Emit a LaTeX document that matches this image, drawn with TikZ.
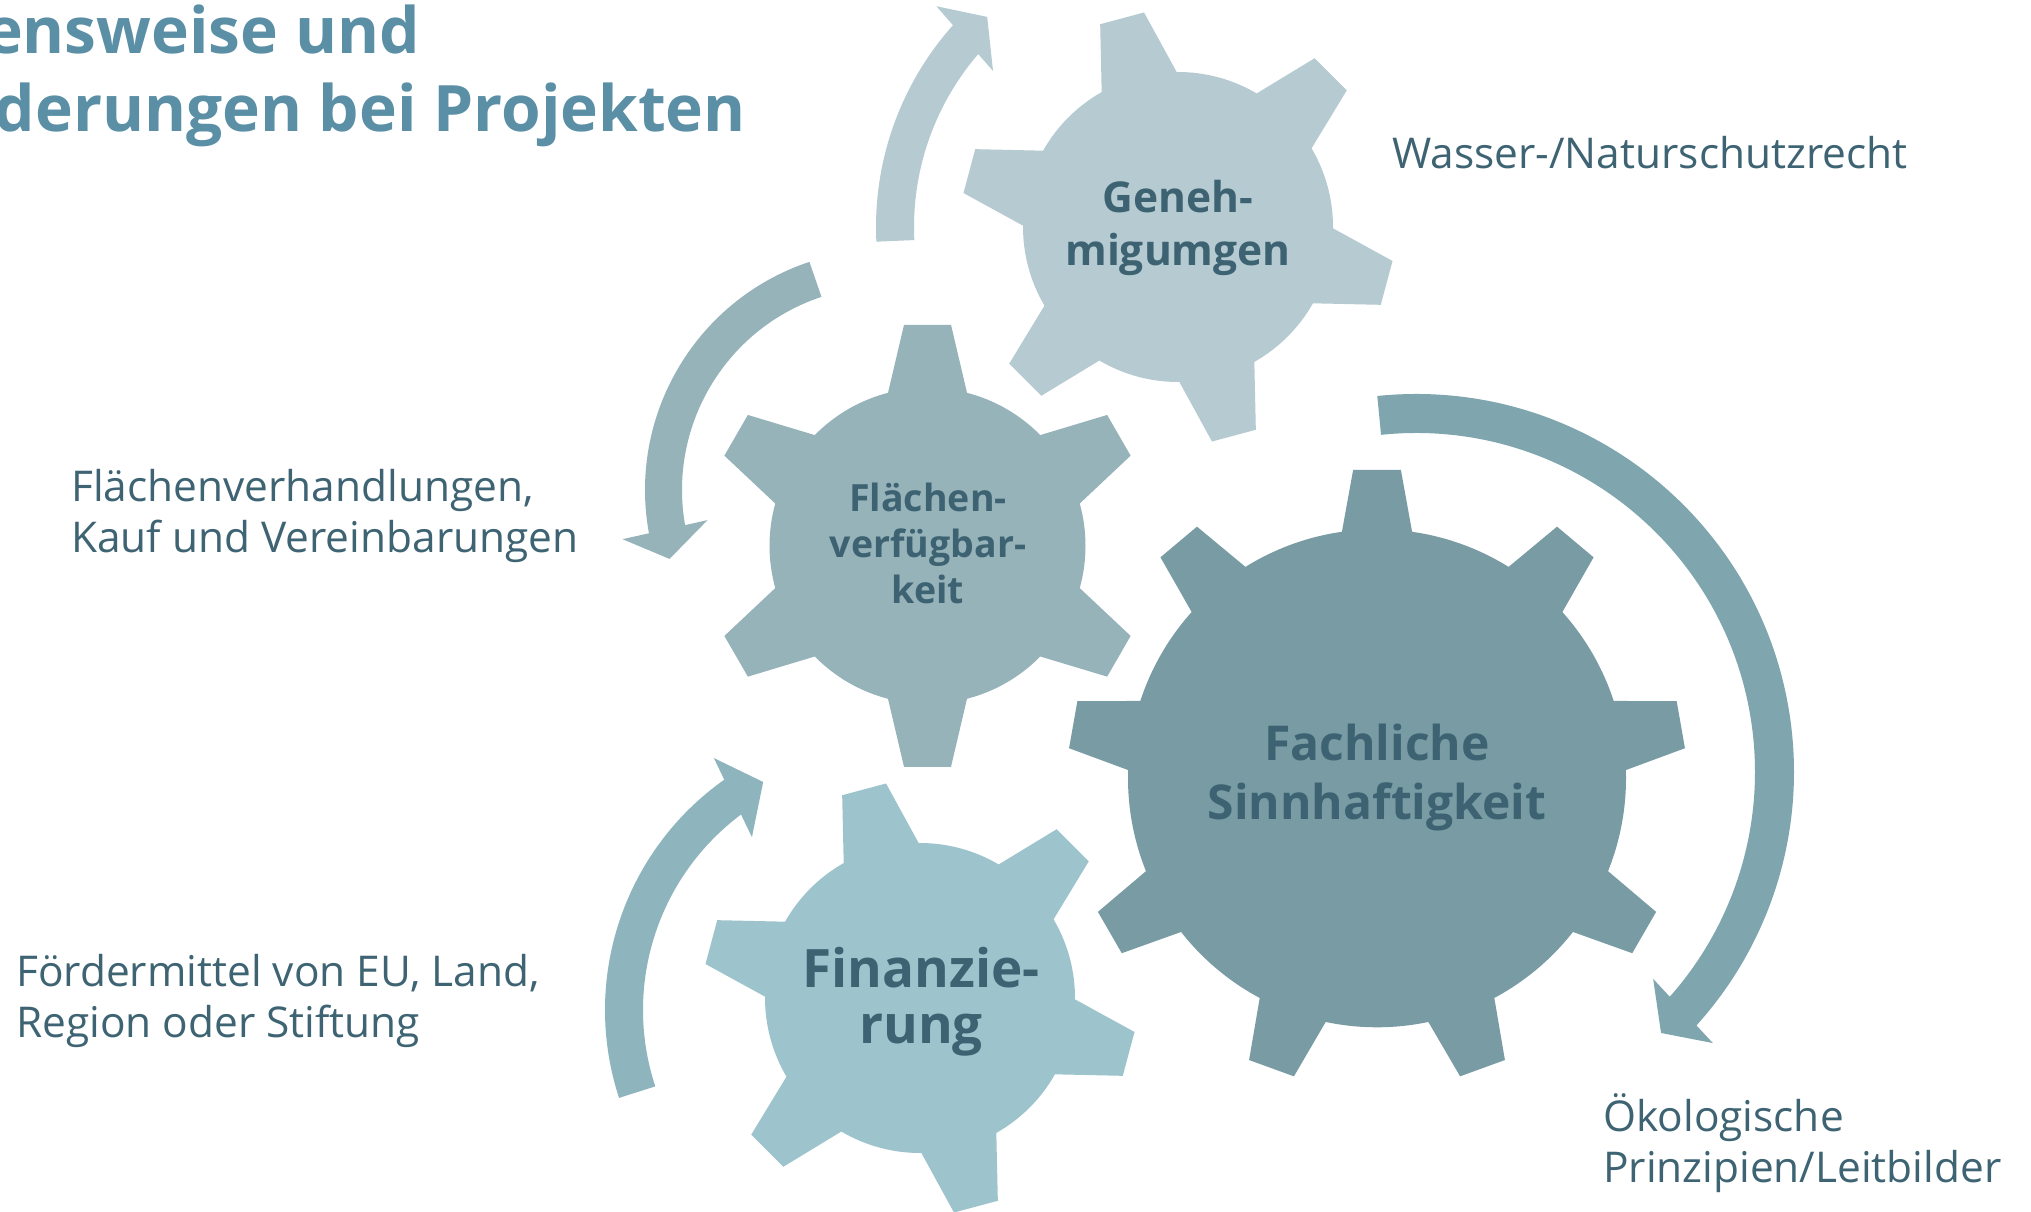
\documentclass[tikz,border=0pt]{standalone}
\usepackage{fontspec}
\setmainfont{Open Sans}
\usetikzlibrary{calc}
\definecolor{gearA}{HTML}{B5CAD1}
\definecolor{gearB}{HTML}{97B3BA}
\definecolor{gearC}{HTML}{789BA4}
\definecolor{gearD}{HTML}{9DC4CD}
\definecolor{arrC}{HTML}{8EB4BE}
\definecolor{arrD}{HTML}{7FA5AE}
\definecolor{geartext}{HTML}{3D6272}
\definecolor{labeltext}{HTML}{3E6474}
\definecolor{titletext}{HTML}{5A8FA6}
\newcommand{\gearshape}[8]{%
  \pgfmathsetmacro{\gB}{asin(#7/#4)}%
  \pgfmathsetmacro{\gT}{atan(#6/#5)}%
  \pgfmathsetmacro{\gR}{#5/cos(\gT)}%
  \pgfmathsetmacro{\gS}{360/#2}%
  \fill[#8] ($(#1)+({#3-\gB}:#4)$)
    \foreach \k [evaluate=\k as \aT using {#3+(\k-1)*\gS},
                 evaluate=\k as \aS using {#3+(\k-1)*\gS+\gB},
                 evaluate=\k as \aE using {#3+\k*\gS-\gB}] in {1,...,#2}{
      -- ($(#1)+({\aT-\gT}:\gR)$)
      -- ($(#1)+({\aT+\gT}:\gR)$)
      -- ($(#1)+(\aS:#4)$)
      arc[start angle=\aS, end angle=\aE, radius=#4pt]
    } -- cycle;
}
\tikzset{
  lbl/.style={inner sep=0pt, text=labeltext, anchor=base west, font=\fontsize{42.4}{51}\selectfont},
  glbl/.style={inner sep=0pt, text=geartext, anchor=base},
  ttl/.style={inner sep=0pt, text=titletext, anchor=base east, font=\bfseries\fontsize{64}{78}\selectfont},
  band/.style={line width=#1pt, line cap=butt}
}
\begin{document}
\begin{tikzpicture}[x=1pt,y=1pt]
\useasboundingbox (0,0) rectangle (2031,1211);
\fill[white] (0,0) rectangle (2031,1211);
% centres
\coordinate (g1) at (1178,984);
\coordinate (g2) at (927.5,665.2);
\coordinate (g3) at (1377,432.7);
\coordinate (g4) at (920,213);
\coordinate (a1) at (1179,984);
\coordinate (a2) at (885.5,721);
\coordinate (a3) at (887,201);
\coordinate (a4) at (1416,439);
% gears
\gearshape{g1}{6}{105}{155}{216}{22.7}{38.8}{gearA}
\gearshape{g2}{6}{90}{158}{221}{23.5}{39.5}{gearB}
\gearshape{g3}{9}{90}{249}{308.5}{23.85}{35.1}{gearC}
\gearshape{g4}{6}{105}{155}{216}{22.7}{38.8}{gearD}
% arrows
\draw[band=38, gearA] ($(a1)+(182.8:284)$) arc[start angle=182.8, end angle=137.5, radius=284pt];
\fill[gearA] ($(a1)+(137.7:328)$) -- ($(a1)+(132.4:284.5)$) -- ($(a1)+(140:242.8)$) -- cycle;
\draw[band=37, gearB] ($(a2)+(108.4:222)$) arc[start angle=108.4, end angle=191.3, radius=222pt];
\fill[gearB] ($(a2)+(190.6:267.5)$) -- ($(a2)+(197.7:226.7)$) -- ($(a2)+(189.6:180.5)$) -- cycle;
\draw[band=38, arrC] ($(a3)+(198.2:263)$) arc[start angle=198.2, end angle=125.2, radius=263pt];
\fill[arrC] ($(a3)+(124.5:305.7)$) -- ($(a3)+(118.5:259.5)$) -- ($(a3)+(128:219.4)$) -- cycle;
\draw[band=39, arrD] ($(a4)+(95.9:358.5)$) arc[start angle=95.9, end angle=-42.8, radius=358.5pt];
\fill[arrD] ($(a4)+(-41.1:314.7)$) -- ($(a4)+(-46.8:358)$) -- ($(a4)+(-42.4:402)$) -- cycle;
% gear texts
\node[glbl, font=\bfseries\fontsize{42.5}{53}\selectfont] (t1) at (1178,998)
  {\begin{tabular}[t]{@{}c@{}}Geneh-\\migumgen\end{tabular}};
\node[glbl, font=\bfseries\fontsize{37.5}{46}\selectfont] (t2) at (928,699.3)
  {\begin{tabular}[t]{@{}c@{}}Flächen-\\verfügbar-\\keit\end{tabular}};
\node[glbl, font=\bfseries\fontsize{48}{59}\selectfont] (t3) at (1377,450.2)
  {\begin{tabular}[t]{@{}c@{}}Fachliche\\Sinnhaftigkeit\end{tabular}};
\node[glbl, font=\bfseries\fontsize{53}{56}\selectfont] (t4) at (921,224)
  {\begin{tabular}[t]{@{}c@{}}Finanzie-\\rung\end{tabular}};
% labels
\node[lbl] (l1) at (1392,1042) {Wasser-/Naturschutzrecht};
\node[lbl] (l2) at (71,709) {\begin{tabular}[t]{@{}l@{}}Flächenverhandlungen,\\Kauf und Vereinbarungen\end{tabular}};
\node[lbl] (l3) at (16,225) {\begin{tabular}[t]{@{}l@{}}Fördermittel von EU, Land,\\Region oder Stiftung\end{tabular}};
\node[lbl] (l4) at (1603,80) {\begin{tabular}[t]{@{}l@{}}Ökologische\\Prinzipien/Leitbilder\end{tabular}};
% title
\node[ttl] (ti1) at (420,1157) {ensweise und};
\node[ttl] (ti2) at (746,1079) {derungen bei Projekten};
\end{tikzpicture}
\end{document}
